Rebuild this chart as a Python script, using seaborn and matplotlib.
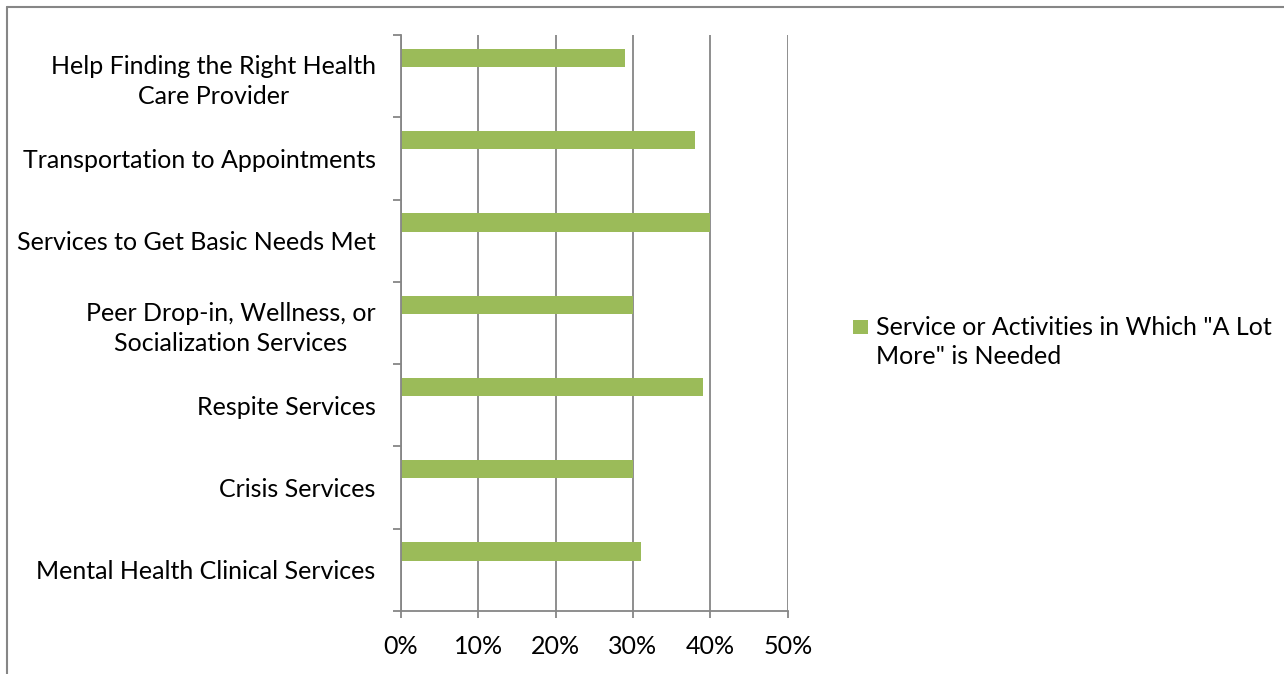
import matplotlib
matplotlib.use("Agg")
import matplotlib.pyplot as plt
import seaborn as sns
import pandas as pd
import numpy as np
from matplotlib.lines import Line2D
from matplotlib.patches import Patch, Rectangle
from matplotlib.legend_handler import HandlerPatch
from matplotlib.ticker import FixedLocator, FuncFormatter

categories = [
    "Help Finding the Right Health\nCare Provider",
    "Transportation to Appointments",
    "Services to Get Basic Needs Met",
    "Peer Drop-in, Wellness, or\nSocialization Services",
    "Respite Services",
    "Crisis Services",
    "Mental Health Clinical Services",
]
values = [0.29, 0.38, 0.40, 0.30, 0.39, 0.30, 0.31]
series_name = 'Service or Activities in Which "A Lot\nMore" is Needed'
empty_series = ["_s2", "_s3"]
x_ticks = [0, 0.1, 0.2, 0.3, 0.4, 0.5]

sns.set_theme(style="white")
plt.rcParams["font.family"] = ["Lato", "DejaVu Sans"]

GREEN = "#9BBB59"
GRAY = "#868686"
FS = 18

rows = []
for c, v in zip(categories, values):
    rows.append({"cat": c, "val": v, "series": series_name})
    for s in empty_series:
        rows.append({"cat": c, "val": np.nan, "series": s})
df = pd.DataFrame(rows)

fig = plt.figure(figsize=(12.84, 6.74), dpi=100)
ax = fig.add_axes([400.7 / 1284, 63 / 674, 387 / 1284, 576 / 674])

sns.barplot(data=df, y="cat", x="val", hue="series",
            hue_order=[series_name] + empty_series, order=categories,
            palette=[GREEN, GREEN, GREEN], saturation=1, width=0.666, dodge=True,
            errorbar=None, linewidth=0, ax=ax, legend=False, orient="h")

ax.set_xlim(0, 0.5)
ax.set_ylim(len(categories) - 0.5, -0.5)
ax.set_xticks(x_ticks)
ax.xaxis.set_major_formatter(FuncFormatter(lambda v, p: f"{v*100:.0f}%"))
ax.set_xlabel("")
ax.set_ylabel("")

ax.grid(axis="x", color=GRAY, linewidth=1.3)
ax.grid(axis="y", visible=False)
ax.set_axisbelow(True)

for s in ["top", "right"]:
    ax.spines[s].set_visible(False)
for s in ["left", "bottom"]:
    ax.spines[s].set_color(GRAY)
    ax.spines[s].set_linewidth(1.3)

ax.yaxis.set_minor_locator(FixedLocator(np.arange(-0.5, len(categories), 1)))
ax.tick_params(axis="y", which="major", length=0, pad=18, labelsize=FS, labelcolor="black")
ax.tick_params(axis="y", which="minor", left=True, length=6, width=1.3, color=GRAY)
ax.tick_params(axis="x", which="major", bottom=True, length=5, width=1.3, color=GRAY,
               pad=12, labelsize=FS, labelcolor="black")
for lbl in ax.get_yticklabels():
    lbl.set_multialignment("center")
    lbl.set_linespacing(1.35)


def top_square(legend, orig_handle, xdescent, ydescent, width, height, fontsize):
    side = 0.58 * fontsize
    return Rectangle((-xdescent + (width - side) / 2, -ydescent + (height - side) / 2 + 0.62 * fontsize),
                     side, side)


handles = [Patch(facecolor=GREEN, edgecolor="none", label=series_name)]
leg = fig.legend(handles=handles, loc="center left", bbox_to_anchor=(853 / 1284, 1 - 342 / 674),
                 frameon=False, fontsize=FS, handlelength=0.58, handleheight=0.58,
                 handletextpad=0.32, borderpad=0, borderaxespad=0, labelcolor="black",
                 handler_map={Patch: HandlerPatch(patch_func=top_square)})
for t in leg.get_texts():
    t.set_linespacing(1.3)

fig.add_artist(Line2D([6.5, 1284], [674 - 6.5, 674 - 6.5], transform=None,
                      color=GRAY, linewidth=1.5))
fig.add_artist(Line2D([6.5, 6.5], [0, 674 - 6.5], transform=None,
                      color=GRAY, linewidth=1.5))

fig.savefig("out.png", dpi=100)
